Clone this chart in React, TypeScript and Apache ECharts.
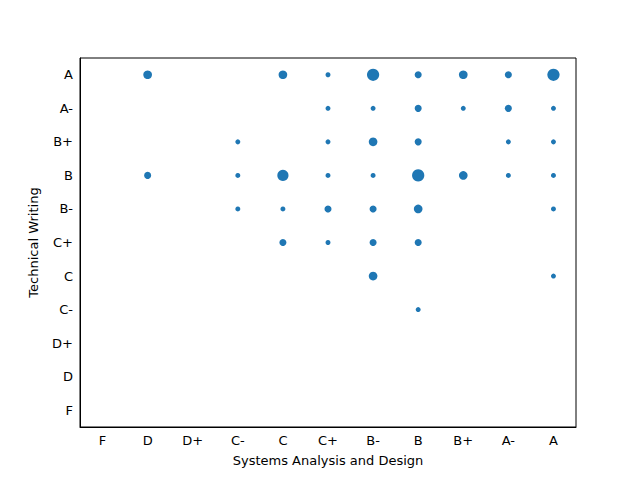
import { useEffect, useRef } from "react";
import * as echarts from "echarts";

const grades = ["F", "D", "D+", "C-", "C", "C+", "B-", "B", "B+", "A-", "A"];

// [Systems Analysis and Design grade, Technical Writing grade, student count]
const pairs: [string, string, number][] = [
  ["D", "A", 3], ["C", "A", 3], ["C+", "A", 1], ["B-", "A", 6], ["B", "A", 2], ["B+", "A", 3], ["A-", "A", 2], ["A", "A", 6],
  ["C+", "A-", 1], ["B-", "A-", 1], ["B", "A-", 2], ["B+", "A-", 1], ["A-", "A-", 2], ["A", "A-", 1],
  ["C-", "B+", 1], ["C+", "B+", 1], ["B-", "B+", 3], ["B", "B+", 2], ["A-", "B+", 1], ["A", "B+", 1],
  ["D", "B", 2], ["C-", "B", 1], ["C", "B", 5], ["C+", "B", 1], ["B-", "B", 1], ["B", "B", 6], ["B+", "B", 3], ["A-", "B", 1], ["A", "B", 1],
  ["C-", "B-", 1], ["C", "B-", 1], ["C+", "B-", 2], ["B-", "B-", 2], ["B", "B-", 3], ["A", "B-", 1],
  ["C", "C+", 2], ["C+", "C+", 1], ["B-", "C+", 2], ["B", "C+", 2],
  ["B-", "C", 3], ["A", "C", 1],
  ["B", "C-", 1],
];

const font = "DejaVu Sans";

export default function App() {
  const ref = useRef<HTMLDivElement>(null);

  useEffect(() => {
    if (!ref.current) return;
    const chart = echarts.init(ref.current, undefined, { renderer: "svg" });
    const axisCommon = {
      type: "category",
      data: grades,
      boundaryGap: true,
      axisLine: { lineStyle: { color: "#000" } },
      axisTick: { alignWithLabel: true, length: 4, lineStyle: { color: "#000" } },
      axisLabel: { color: "#000", fontFamily: font, fontSize: 13, margin: 7 },
      splitLine: { show: false },
      nameLocation: "middle",
      nameTextStyle: { color: "#000", fontFamily: font, fontSize: 13 },
    };
    chart.setOption({
      animation: false,
      grid: {
        left: 80, right: 64, top: 58, bottom: 53,
        show: true, borderColor: "#000", borderWidth: 1,
      },
      xAxis: { ...axisCommon, name: "Systems Analysis and Design", nameGap: 27 },
      yAxis: { ...axisCommon, name: "Technical Writing", nameGap: 40 },
      series: [
        {
          type: "scatter",
          data: pairs,
          symbolSize: (v: [string, string, number]) => 5 * Math.sqrt(v[2]),
          itemStyle: { color: "#1f77b4", opacity: 1 },
        },
      ],
    });
    return () => chart.dispose();
  }, []);

  return <div ref={ref} style={{ width: 640, height: 480, margin: -8 }} />;
}
